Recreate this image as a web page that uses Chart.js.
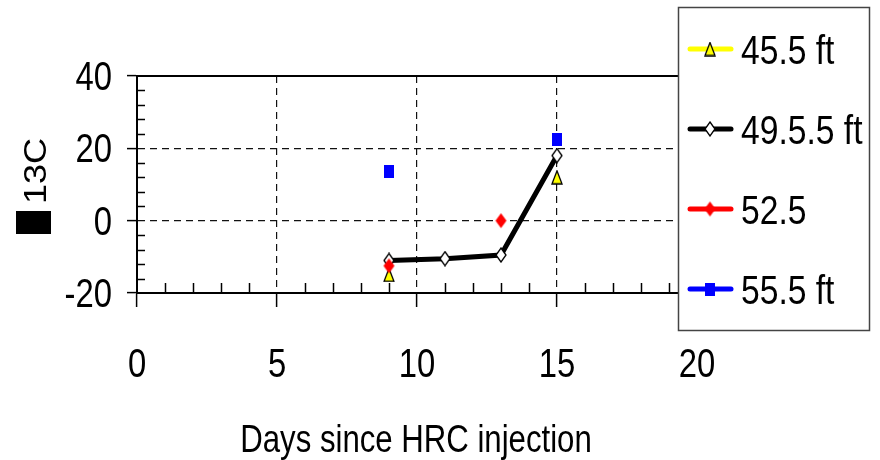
<!DOCTYPE html>
<html>
<head>
<meta charset="utf-8">
<title>13C vs days since HRC injection</title>
<script src="https://cdn.jsdelivr.net/npm/chart.js@4"></script>
<style>
  html, body { margin: 0; padding: 0; background: #fff; }
  canvas { display: block; }
</style>
</head>
<body>
<canvas id="chart" width="880" height="460"></canvas>
<script>
"use strict";

// ---------- Data ----------
const days = [9, 11, 13, 15];
const seriesNames = ["45.5 ft", "49.5.5 ft", "52.5", "55.5 ft"];
const depth455 = [-15, null, null, 12];
const depth495 = [-11, -10.5, -9.5, 18];
const depth525 = [-12.5, null, 0, null];
const depth555 = [13.5, null, null, 22.5];
const xTicks = [0, 5, 10, 15, 20];
const yTicks = [-20, 0, 20, 40];
const xTitle = "Days since HRC injection";
const yTitle = "13C";

const FONT = "'Liberation Sans', Arial, sans-serif";
const SQUEEZE = 0.82; // the original type is a condensed Arial

// ---------- Markers ----------
function marker(w, h, draw) {
  const c = document.createElement("canvas");
  c.width = w;
  c.height = h;
  draw(c.getContext("2d"), w, h);
  return c;
}

function diamondPath(g, w, h) {
  g.beginPath();
  g.moveTo(w / 2, 1);
  g.lineTo(w - 1, h / 2);
  g.lineTo(w / 2, h - 1);
  g.lineTo(1, h / 2);
  g.closePath();
}

const triangle = marker(12, 15, (g, w, h) => {
  g.beginPath();
  g.moveTo(w / 2, 1);
  g.lineTo(w - 1, h - 1);
  g.lineTo(1, h - 1);
  g.closePath();
  g.fillStyle = "#ffff00";
  g.fill();
  g.strokeStyle = "#000";
  g.lineWidth = 1.3;
  g.stroke();
});
const whiteDiamond = marker(12, 16, (g, w, h) => {
  diamondPath(g, w, h);
  g.fillStyle = "#fff";
  g.fill();
  g.strokeStyle = "#000";
  g.lineWidth = 1.3;
  g.stroke();
});
const redDiamond = marker(13, 17, (g, w, h) => {
  diamondPath(g, w, h);
  g.fillStyle = "#ff0000";
  g.fill();
});
const blueSquare = marker(10, 13, (g, w, h) => {
  g.fillStyle = "#0000ff";
  g.fillRect(0, 0, w, h);
});

const colors = ["#ffff00", "#000000", "#ff0000", "#0000ff"];
const markers = [triangle, whiteDiamond, redDiamond, blueSquare];
const values = [depth455, depth495, depth525, depth555];

function points(arr) {
  return days.map((d, i) => ({ x: d, y: arr[i] }));
}

function narrowText(ctx, text, x, y, size, align) {
  ctx.save();
  ctx.translate(x, y);
  ctx.scale(SQUEEZE, 1);
  ctx.font = size + "px " + FONT;
  ctx.textAlign = align;
  ctx.textBaseline = "alphabetic";
  ctx.fillStyle = "#000";
  ctx.fillText(text, 0, 0);
  ctx.restore();
}

// ---------- Extra drawing: frame, minor ticks, labels, legend ----------
const decorations = {
  id: "decorations",
  afterDraw(chart) {
    const { ctx, chartArea: a, scales: { x, y } } = chart;
    ctx.save();

    ctx.strokeStyle = "#000";
    ctx.lineWidth = 2;
    ctx.beginPath();
    ctx.moveTo(a.left, a.top);
    ctx.lineTo(a.right, a.top);
    ctx.lineTo(a.right, a.bottom);
    ctx.stroke();

    ctx.lineWidth = 1.5;
    ctx.beginPath();
    for (let v = 1; v < 20; v++) {
      if (v % 5 === 0) continue;
      const px = Math.round(x.getPixelForValue(v)) + 0.5;
      ctx.moveTo(px, a.bottom);
      ctx.lineTo(px, a.bottom - 10);
    }
    for (let v = -16; v < 40; v += 4) {
      if (v % 20 === 0) continue;
      const py = Math.round(y.getPixelForValue(v)) + 0.5;
      ctx.moveTo(a.left, py);
      ctx.lineTo(a.left + 8, py);
    }
    ctx.stroke();

    // tick labels and x title
    x.ticks.forEach((t) => narrowText(ctx, String(t.value), x.getPixelForValue(t.value), 377, 40, "center"));
    y.ticks.forEach((t) => narrowText(ctx, String(t.value), 112, y.getPixelForValue(t.value) + 14, 40, "right"));
    narrowText(ctx, xTitle, (x.left + x.right) / 2 - 1, 452, 38, "center");

    // y axis title (delta symbol lost in the original, shown as a block)
    ctx.fillStyle = "#000";
    ctx.fillRect(16, 211, 35, 23);
    ctx.save();
    ctx.translate(46, 171);
    ctx.rotate(-Math.PI / 2);
    ctx.scale(1, 0.88);
    ctx.font = "36px " + FONT;
    ctx.textAlign = "center";
    ctx.textBaseline = "alphabetic";
    ctx.fillText(yTitle, 0, 0);
    ctx.restore();

    // legend
    ctx.fillStyle = "#fff";
    ctx.fillRect(678, 7, 191, 323);
    ctx.strokeStyle = "#444";
    ctx.lineWidth = 1.5;
    ctx.strokeRect(678.5, 7.5, 191, 323);
    seriesNames.forEach((name, i) => {
      const cy = 49 + i * 80;
      ctx.strokeStyle = colors[i];
      ctx.lineWidth = 5;
      ctx.lineCap = "round";
      ctx.beginPath();
      ctx.moveTo(690, cy);
      ctx.lineTo(731, cy);
      ctx.stroke();
      const m = markers[i];
      ctx.drawImage(m, 710 - m.width / 2, cy - m.height / 2);
      narrowText(ctx, name, 741, cy + 15, 41, "left");
    });

    ctx.restore();
  },
};

// ---------- Chart ----------
new Chart(document.getElementById("chart"), {
  type: "line",
  data: {
    datasets: seriesNames.map((name, i) => ({
      label: name,
      data: points(values[i]),
      borderColor: colors[i],
      backgroundColor: colors[i],
      borderWidth: 5,
      pointStyle: markers[i],
      pointRadius: 7,
      pointHoverRadius: 7,
      spanGaps: false,
      order: 3 - i,
    })),
  },
  options: {
    responsive: false,
    animation: false,
    layout: { padding: { top: 76, right: 183, left: 0, bottom: 0 } },
    plugins: { legend: { display: false }, tooltip: { enabled: false } },
    scales: {
      x: {
        type: "linear",
        min: 0,
        max: 20,
        afterBuildTicks: (s) => { s.ticks = xTicks.map((v) => ({ value: v })); },
        afterFit: (s) => { s.height = 167; },
        ticks: { display: false },
        grid: {
          color: (c) => (c.tick && (c.tick.value === 0 || c.tick.value === 20) ? "transparent" : "#111"),
          lineWidth: 1.2,
          tickColor: "#000",
          tickLength: 14,
          tickWidth: 1.5,
        },
        border: { display: true, color: "#000", width: 2, dash: [7, 5] },
      },
      y: {
        min: -20,
        max: 40,
        afterBuildTicks: (s) => { s.ticks = yTicks.map((v) => ({ value: v })); },
        afterFit: (s) => { s.width = 137; },
        ticks: { display: false },
        grid: {
          color: (c) => (c.tick && (c.tick.value === 0 || c.tick.value === 20) ? "#111" : "transparent"),
          lineWidth: 1.2,
          tickColor: "#000",
          tickLength: 10,
          tickWidth: 1.5,
        },
        border: { display: true, color: "#000", width: 2, dash: [7, 5] },
      },
    },
  },
  plugins: [decorations],
});
</script>
</body>
</html>
